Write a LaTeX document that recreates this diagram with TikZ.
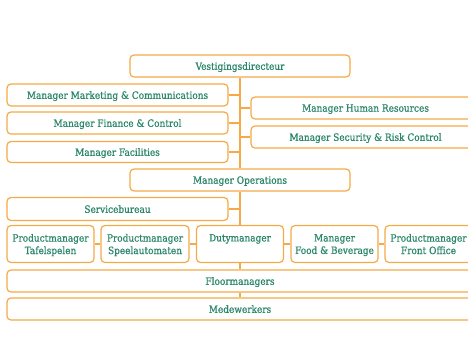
\documentclass[tikz,border=0pt]{standalone}
\usepackage{fontspec}
\newfontfamily\boxfont{DejaVu Serif Condensed}[FakeBold=0.7]
\definecolor{boxline}{HTML}{F5AA48}
\definecolor{boxtext}{HTML}{2A876A}
\tikzset{
  unitbox/.style={draw=boxline, line width=1.2bp, rounded corners=4bp, fill=white,
    text=boxtext, font=\boxfont\fontsize{10}{12.5}\selectfont, inner sep=0pt, align=center,
    minimum height=22bp, text depth=0pt},
  link/.style={draw=boxline, line width=1.2bp}
}
\begin{document}
\begin{tikzpicture}[x=1bp,y=-1bp]
\useasboundingbox (0,0) rectangle (468,353);
\clip (0,0) rectangle (468,353);
\node[unitbox, minimum width=220bp] (vd) at (240,66) {Vestigingsdirecteur};
\node[unitbox, minimum width=221bp] (mm) at (117.5,95) {Manager Marketing \& Communications};
\node[unitbox, minimum width=221bp] (mf) at (117.5,123) {Manager Finance \& Control};
\node[unitbox, minimum width=221bp, minimum height=21bp] (mfa) at (117.5,152) {Manager Facilities};
\node[unitbox, minimum width=229bp] (hr) at (365.5,108) {Manager Human Resources};
\node[unitbox, minimum width=229bp] (sec) at (365.5,137) {Manager Security \& Risk Control};
\node[unitbox, minimum width=220bp] (ops) at (240,180) {Manager Operations};
\node[unitbox, minimum width=221bp, minimum height=23bp] (sb) at (117.5,209) {Servicebureau};
\node[unitbox, minimum width=87bp, minimum height=37bp] (p1) at (50.5,244) {Productmanager\\Tafelspelen};
\node[unitbox, minimum width=88bp, minimum height=37bp] (p2) at (145,244) {Productmanager\\Speelautomaten};
\node[unitbox, minimum width=87bp, minimum height=37bp] (dm) at (240,244) {Dutymanager\\\phantom{Xg}};
\node[unitbox, minimum width=87bp, minimum height=37bp] (fb) at (334.5,244) {Manager\\Food \& Beverage};
\node[unitbox, minimum width=87bp, minimum height=37bp] (fo) at (428.5,244) {Productmanager\\Front Office};
\node[unitbox, minimum width=466bp] (fl) at (240,281) {Floormanagers};
\node[unitbox, minimum width=466bp] (mw) at (240,309) {Medewerkers};
\path[link] (vd.south) -- (ops.north);
\path[link] (ops.south) -- (dm.north);
\path[link] (dm.south) -- (fl.north);
\path[link] (fl.south) -- (mw.north);
\path[link] (mm.east) -- (mm.east -| vd.south);
\path[link] (mf.east) -- (mf.east -| vd.south);
\path[link] (mfa.east) -- (mfa.east -| vd.south);
\path[link] (hr.west) -- (hr.west -| vd.south);
\path[link] (sec.west) -- (sec.west -| vd.south);
\path[link] (sb.east) -- (sb.east -| vd.south);
\path[link] (p1.east) -- (p2.west);
\path[link] (p2.east) -- (dm.west);
\path[link] (dm.east) -- (fb.west);
\path[link] (fb.east) -- (fo.west);
\end{tikzpicture}
\end{document}
